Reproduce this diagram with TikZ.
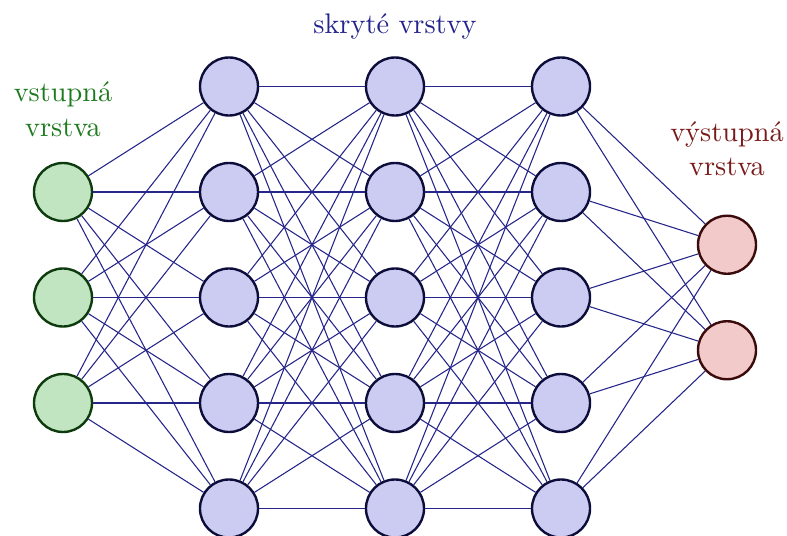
\documentclass[tikz,border=0pt]{standalone}
\definecolor{infill}{RGB}{192,229,192}
\definecolor{indraw}{RGB}{13,59,13}
\definecolor{hidfill}{RGB}{204,204,242}
\definecolor{hiddraw}{RGB}{13,13,59}
\definecolor{outfill}{RGB}{242,202,202}
\definecolor{outdraw}{RGB}{59,10,10}
\definecolor{connc}{RGB}{38,38,138}
\definecolor{ingreen}{RGB}{30,122,30}
\definecolor{hidblue}{RGB}{35,35,140}
\definecolor{outred}{RGB}{122,25,25}
\begin{document}
\begin{tikzpicture}[x=0.3533pt,y=-0.3533pt,
  neuron/.style={circle,minimum size=20.5pt,inner sep=0pt,line width=0.85pt},
  inp/.style={neuron,fill=infill,draw=indraw},
  hid/.style={neuron,fill=hidfill,draw=hiddraw},
  outp/.style={neuron,fill=outfill,draw=outdraw},
  conn/.style={draw=connc,line width=0.38pt},
  lbl/.style={align=center,anchor=base}]
\useasboundingbox (0,0) rectangle (787,536);
\clip (0,0) rectangle (787,536);
% input
\foreach \i/\y in {1/192,2/297.5,3/403}
  \node[inp] (I\i) at (63,\y) {};
% hidden
\foreach \l/\x in {1/229,2/395,3/561}
  \foreach \i/\y in {1/86.5,2/192,3/297.5,4/403,5/508.5}
    \node[hid] (H\l-\i) at (\x,\y) {};
% output
\foreach \i/\y in {1/244.75,2/350.25}
  \node[outp] (O\i) at (727,\y) {};
% connections
\foreach \i in {1,2,3}
  \foreach \j in {1,...,5}
    \draw[conn] (I\i) -- (H1-\j);
\foreach \i in {1,...,5}
  \foreach \j in {1,...,5}
    {\draw[conn] (H1-\i) -- (H2-\j);
     \draw[conn] (H2-\i) -- (H3-\j);}
\foreach \i in {1,...,5}
  \foreach \j in {1,2}
    \draw[conn] (H3-\i) -- (O\j);
% labels
\node[lbl,text=ingreen] (Lin1) at (63,102) {vstupná};
\node[lbl,text=ingreen] (Lin2) at (63,137) {vrstva};
\node[lbl,text=hidblue] (Lhid) at (395,34) {skryté vrstvy};
\node[lbl,text=outred] (Lout1) at (727,141.5) {výstupná};
\node[lbl,text=outred] (Lout2) at (727,176) {vrstva};
\end{tikzpicture}
\end{document}
